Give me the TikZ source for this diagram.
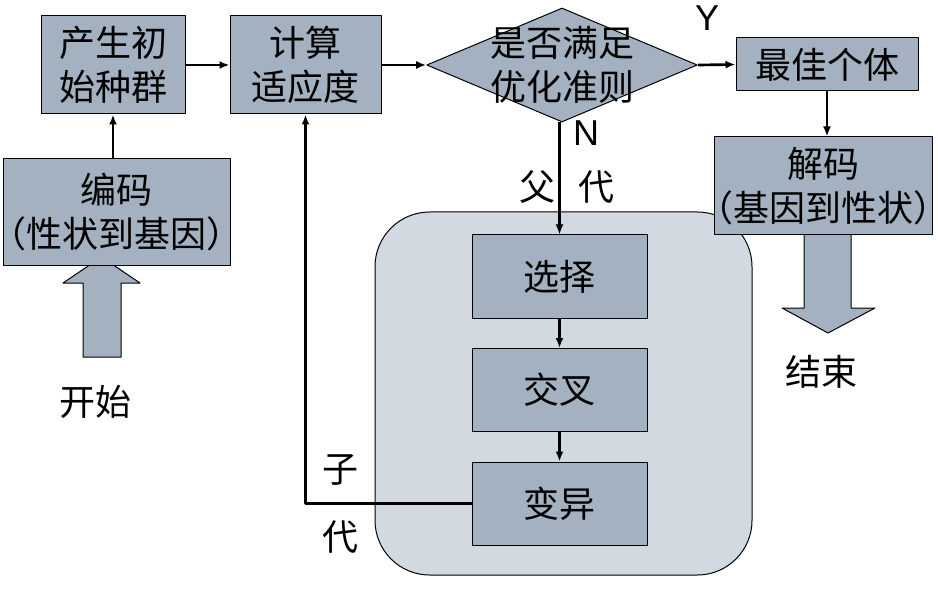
\documentclass[tikz,border=0pt]{standalone}
\usepackage{fontspec}
\setmainfont{Noto Sans CJK SC}
\newfontfamily\latin{Liberation Sans}
\usetikzlibrary{arrows.meta,shapes.geometric}
\definecolor{boxfill}{RGB}{163,177,193}
\definecolor{panelfill}{RGB}{211,217,225}
\begin{document}
\begin{tikzpicture}[x=0.75pt,y=-0.75pt,line join=round,>={Latex[length=7.5pt,width=6pt]},
	txt/.style={font=\fontsize{27pt}{33pt}\selectfont,align=center,inner sep=0pt},
	box/.style={txt,draw,line width=0.75pt,fill=boxfill},
	flow/.style={->,line width=2pt},
	crit/.style={diamond,draw,line width=0.75pt,fill=boxfill,inner sep=0pt,minimum width=203pt,minimum height=85.5pt}]
	\useasboundingbox (0,0) rectangle (938,595);
	\draw[line width=0.75pt,fill=panelfill,rounded corners=41pt] (375,212) rectangle (752,575);
	% block arrows
	\draw[line width=0.75pt,fill=boxfill] (83,357)--(83,283)--(63,283)--(101.5,257)--(140,283)--(121,283)--(121,357)--cycle;
	\draw[line width=0.75pt,fill=boxfill] (804,230)--(804,308)--(782,308)--(828,333)--(875,308)--(851,308)--(851,230)--cycle;
	\node[box,minimum width=108pt,minimum height=73.5pt] (init) at (113,65) {产生初\\始种群};
	\node[box,minimum width=113.25pt,minimum height=73.5pt] (fit) at (305.5,65) {计算\\适应度};
	\node[crit] (crit) at (562,65) {};
	\node[txt] (critt) at (crit) {是否满足\\优化准则};
	\node[box,minimum width=136.5pt,minimum height=39.75pt] (best) at (827,64.5) {最佳个体};
	\node[box,inner xsep=-15pt,minimum width=163.5pt,minimum height=73.5pt] (dec) at (823,186) {解码\\（基因到性状）};
	\node[box,inner xsep=-15pt,minimum width=170.25pt,minimum height=79.5pt] (enc) at (116.5,212) {编码\\（性状到基因）};
	\node[box,minimum width=131.25pt,minimum height=62.25pt] (sel) at (559.5,276.5) {选择};
	\node[box,minimum width=131.25pt,minimum height=62.25pt] (cross) at (559.5,390) {交叉};
	\node[box,minimum width=131.25pt,minimum height=62.25pt] (mut) at (559.5,503.5) {变异};
	\node[txt] (start) at (95,402) {开始};
	\node[txt] (stop) at (821,372) {结束};
	\node[txt,font=\latin\fontsize{27pt}{33pt}\selectfont] (yes) at (707,18) {Y};
	\node[txt,font=\latin\fontsize{27pt}{33pt}\selectfont] (no) at (586,133) {N};
	\node[txt] (fa) at (537,187) {父};
	\node[txt] (dai1) at (596,187) {代};
	\node[txt] (zi) at (340,470) {子};
	\node[txt] (dai2) at (340,537) {代};
	\draw[flow] (init)--(fit);
	\draw[flow] (fit)--(crit);
	\draw[flow] (crit.east)--(best.west);
	\draw[flow] (best.south)--(best.south|-dec.north);
	\draw[flow] (init.south|-enc.north)--(init.south);
	\draw[flow] (crit.south-|sel.north)--(sel.north);
	\draw[flow] (sel)--(cross);
	\draw[flow] (cross)--(mut);
	\draw[flow] (mut.west)-|(fit.south);
\end{tikzpicture}
\end{document}
